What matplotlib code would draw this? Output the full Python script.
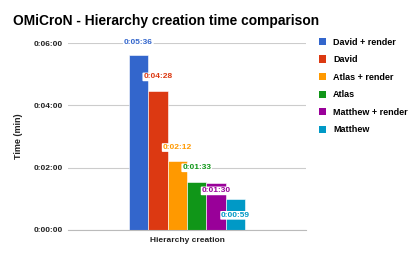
"""OMiCroN hierarchy creation time comparison, bar chart."""

import matplotlib
matplotlib.use("Agg")
import matplotlib.pyplot as plt
from matplotlib.patches import Patch
from matplotlib.ticker import FuncFormatter, MultipleLocator

plt.rcParams['font.family'] = ['Liberation Sans', 'DejaVu Sans']

# =============================================================================
# Data (seconds)
series = ["David + render", "David", "Atlas + render", "Atlas",
          "Matthew + render", "Matthew"]
seconds = [336, 268, 132, 93, 90, 59]
category = "Hierarchy creation"
colors = ["#3366cc", "#dc3912", "#ff9900", "#109618", "#990099", "#0099c6"]
# vertical offset of each value label, in points
label_dy = [9, 10, 10, 10, -5.5, -11.5]


def hms(v, pos=None):
    v = int(round(v))
    return "%d:%02d:%02d" % (v // 3600, (v % 3600) // 60, v % 60)


# =============================================================================
fig = plt.figure(figsize=(4.15, 2.57), dpi=100)
ax = fig.add_axes([68 / 415, 1 - 230 / 257, 238 / 415, 187 / 257])

n = len(series)
width = 0.49 / n
for i, (name, val, col) in enumerate(zip(series, seconds, colors)):
    x = (i - (n - 1) / 2) * width
    ax.bar(x, val, width, color=col, edgecolor="white", linewidth=0.4,
           zorder=3)
    ax.annotate(hms(val), (x, val), xytext=(0, label_dy[i]),
                textcoords="offset points", ha="center", va="center",
                fontsize=6, fontweight="bold", color=col, zorder=4,
                bbox=dict(boxstyle="round,pad=0.1", fc="white", ec="none"))

ax.set_xlim(-0.5, 0.5)
ax.set_ylim(0, 360)
ax.yaxis.set_major_locator(MultipleLocator(120))
ax.yaxis.set_major_formatter(FuncFormatter(hms))
ax.set_xticks([0])
ax.set_xticklabels([category], fontsize=6.5, fontweight="bold")
ax.tick_params(axis="both", length=0, labelsize=6, colors="#222222")
ax.tick_params(axis="x", pad=5)
ax.tick_params(axis="y", pad=3.5)
for lab in ax.get_yticklabels():
    lab.set_fontweight("bold")
ax.grid(axis="y", color="#cccccc", linewidth=0.8, zorder=0)
for s in ["top", "right", "left"]:
    ax.spines[s].set_visible(False)
ax.spines["bottom"].set_color("#bbbbbb")
ax.spines["bottom"].set_zorder(5)

ax.set_ylabel("Time (min)", fontsize=6.5, fontweight="bold", labelpad=8,
              color="#222222")

fig.text(13 / 415, 1 - 21 / 257,
         "OMiCroN - Hierarchy creation time comparison",
         fontsize=9.9, fontweight="bold", va="center", ha="left")

handles = [Patch(facecolor=c, edgecolor="none") for c in colors]
fig.legend(handles, series, loc="upper left",
           bbox_to_anchor=(315 / 415, 1 - 34 / 257), frameon=False,
           handlelength=0.85, handleheight=0.85,
           handletextpad=0.75, labelspacing=0.95, borderaxespad=0,
           prop={"weight": "bold", "size": 6.5})

fig.savefig("out.png", dpi=100)
